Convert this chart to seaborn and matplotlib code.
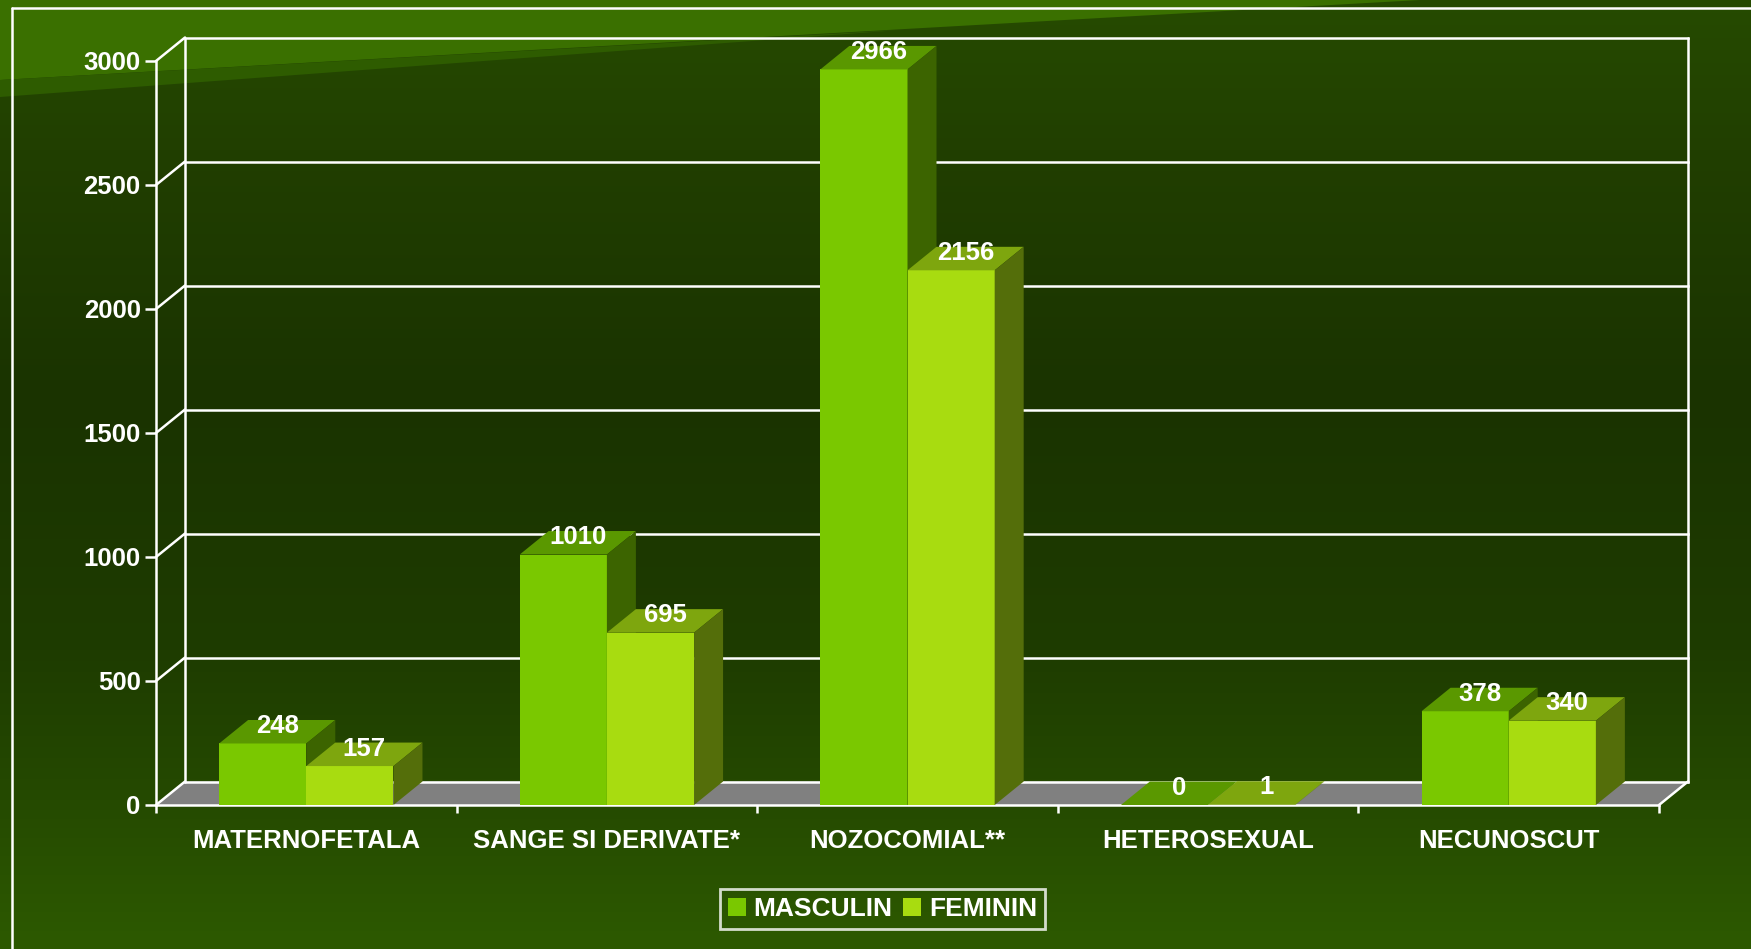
import numpy as np
import pandas as pd
import matplotlib
matplotlib.use("Agg")
import matplotlib.pyplot as plt
from matplotlib.patches import Polygon, Patch, Rectangle
from matplotlib.colors import to_rgb
import seaborn as sns

# ---------------- data ----------------
categories = ["MATERNOFETALA", "SANGE SI DERIVATE*", "NOZOCOMIAL**", "HETEROSEXUAL", "NECUNOSCUT"]
series_names = ["MASCULIN", "FEMININ"]
masculin = [248, 1010, 2966, 0, 378]
feminin = [157, 695, 2156, 1, 340]
yticks = [0, 500, 1000, 1500, 2000, 2500, 3000]

# ---------------- style ----------------
FRONT = {"MASCULIN": "#7AC800", "FEMININ": "#A8DC10"}
TOP = {"MASCULIN": "#5A9800", "FEMININ": "#7EA60E"}
SIDE = {"MASCULIN": "#3C6400", "FEMININ": "#546E0A"}
FLOOR = "#808080"
LINE_W = 1.8
FS = 18.5
W_PX, H_PX, DPI = 1751, 949, 100
DEPTH_PX = (29.0, 23.5)  # 3D depth offset in pixels (right, up)

sns.set_theme(style="white")
plt.rcParams["font.family"] = ["Liberation Sans", "DejaVu Sans"]
plt.rcParams["font.weight"] = "bold"

fig = plt.figure(figsize=(W_PX / DPI, H_PX / DPI), dpi=DPI)

# ---------------- background ----------------
bg = fig.add_axes([0, 0, 1, 1], zorder=-10)
stops_y = [0, 150, 400, 650, 800, 949]
stops_c = ["#264B00", "#213F00", "#1A3300", "#1E3C00", "#254A00", "#2D5A00"]
cols = np.array([to_rgb(c) for c in stops_c])
yy = np.arange(H_PX)
grad = np.stack([np.interp(yy, stops_y, cols[:, i]) for i in range(3)], axis=-1)[:, None, :]
bg.imshow(grad, extent=(0, W_PX, H_PX, 0), aspect="auto", interpolation="bilinear")
bg.add_patch(Polygon([(0, 0), (1420, 0), (0, 80)], closed=True, color="#3A7000", lw=0))
bg.add_patch(Polygon([(0, 80), (900, 30), (0, 97)], closed=True, color="#2E5C00", lw=0))
bg.plot([12, 12], [8, H_PX], color="white", lw=LINE_W)
bg.plot([12, W_PX], [8, 8], color="white", lw=LINE_W)
bg.set_xlim(0, W_PX)
bg.set_ylim(H_PX, 0)
bg.axis("off")

# ---------------- main axes ----------------
L, R = 156 / W_PX, 1659 / W_PX
T, B = 1 - 61 / H_PX, 1 - 805 / H_PX
ax = fig.add_axes([L, B, R - L, T - B])
ax.set_facecolor("none")

df = pd.DataFrame({
    "cat": categories * 2,
    "sex": [series_names[0]] * len(categories) + [series_names[1]] * len(categories),
    "value": masculin + feminin,
})
sns.barplot(data=df, x="cat", y="value", hue="sex", order=categories,
            hue_order=series_names, palette=[FRONT[s] for s in series_names],
            width=0.58, gap=0, saturation=1, legend=False, errorbar=None,
            linewidth=0, ax=ax)
bars = [p for p in ax.patches if isinstance(p, Rectangle)]
bars = sorted(bars, key=lambda p: p.get_x())

ax.set_xlim(-0.5, len(categories) - 0.5)
ax.set_ylim(0, yticks[-1])
ax.set_xlabel("")
ax.set_ylabel("")
ax.grid(False)

# depth in data units
ax_w_px = (R - L) * W_PX
ax_h_px = (T - B) * H_PX
DX = DEPTH_PX[0] * len(categories) / ax_w_px
DY = DEPTH_PX[1] * yticks[-1] / ax_h_px
x0a, x1a = -0.5, len(categories) - 0.5

# floor
ax.add_patch(Polygon([(x0a, 0), (x1a, 0), (x1a + DX, DY), (x0a + DX, DY)],
                     closed=True, fc=FLOOR, lw=0, zorder=0.8, clip_on=False))
# back wall grid and side diagonals
for v in yticks:
    ax.plot([x0a + DX, x1a + DX], [v + DY, v + DY], color="white", lw=LINE_W,
            zorder=1, clip_on=False, solid_capstyle="projecting")
    ax.plot([x0a, x0a + DX], [v, v + DY], color="white", lw=LINE_W, zorder=1, clip_on=False)
ax.plot([x0a + DX] * 2, [DY, yticks[-1] + DY], color="white", lw=LINE_W, zorder=1, clip_on=False)
ax.plot([x1a + DX] * 2, [DY, yticks[-1] + DY], color="white", lw=LINE_W, zorder=1, clip_on=False)
ax.plot([x1a, x1a + DX], [0, DY], color="white", lw=LINE_W, zorder=1, clip_on=False)

# 3D faces for the bars
values = {series_names[0]: masculin, series_names[1]: feminin}
for i, cat in enumerate(categories):
    pair = bars[2 * i: 2 * i + 2]
    for k, (s, p) in enumerate(zip(series_names, pair)):
        z = 3 + k
        x0, w, h = p.get_x(), p.get_width(), p.get_height()
        p.set_zorder(z)
        p.set_clip_on(False)
        ax.add_patch(Polygon([(x0, h), (x0 + w, h), (x0 + w + DX, h + DY), (x0 + DX, h + DY)],
                             closed=True, fc=TOP[s], lw=0, zorder=z, clip_on=False))
        ax.add_patch(Polygon([(x0 + w, 0), (x0 + w + DX, DY), (x0 + w + DX, h + DY), (x0 + w, h)],
                             closed=True, fc=SIDE[s], lw=0, zorder=z, clip_on=False))
        ax.annotate(str(values[s][i]), xy=(x0 + w / 2 + DX / 2, h + DY / 2),
                    xytext=(0, 4), textcoords="offset points", ha="center", va="center",
                    color="white", fontsize=FS, fontweight="bold", zorder=10,
                    annotation_clip=False)

# spines & ticks
for side in ["top", "right"]:
    ax.spines[side].set_visible(False)
for side in ["left", "bottom"]:
    ax.spines[side].set_color("white")
    ax.spines[side].set_linewidth(LINE_W)
    ax.spines[side].set_zorder(2)

ax.set_yticks(yticks)
ax.set_yticklabels([str(v) for v in yticks])
ax.tick_params(axis="y", colors="white", length=8, width=LINE_W, pad=3,
               labelsize=FS, direction="out", left=True)
ax.set_xticks(range(len(categories)))
ax.set_xticklabels(categories)
ax.set_xticks(np.arange(-0.5, len(categories), 1), minor=True)
ax.tick_params(axis="x", which="major", length=0, pad=17, labelsize=FS, labelcolor="white")
ax.tick_params(axis="x", which="minor", length=6, width=LINE_W, color="white",
               direction="out", bottom=True)
for t in ax.get_xticklabels() + ax.get_yticklabels():
    t.set_fontweight("bold")

# legend
handles = [Patch(facecolor=FRONT[s], edgecolor="none") for s in series_names]
leg = fig.legend(handles, series_names, loc="center", bbox_to_anchor=(0.504, 0.042),
                 ncol=2, frameon=True, fancybox=False, facecolor="none",
                 edgecolor="white", handlelength=0.68, handleheight=0.68,
                 handletextpad=0.3, columnspacing=0.4, borderpad=0.3,
                 borderaxespad=0, prop={"size": 19, "weight": "bold"})
for t in leg.get_texts():
    t.set_color("white")
leg.get_frame().set_linewidth(2)

fig.savefig("out.png", dpi=DPI)
